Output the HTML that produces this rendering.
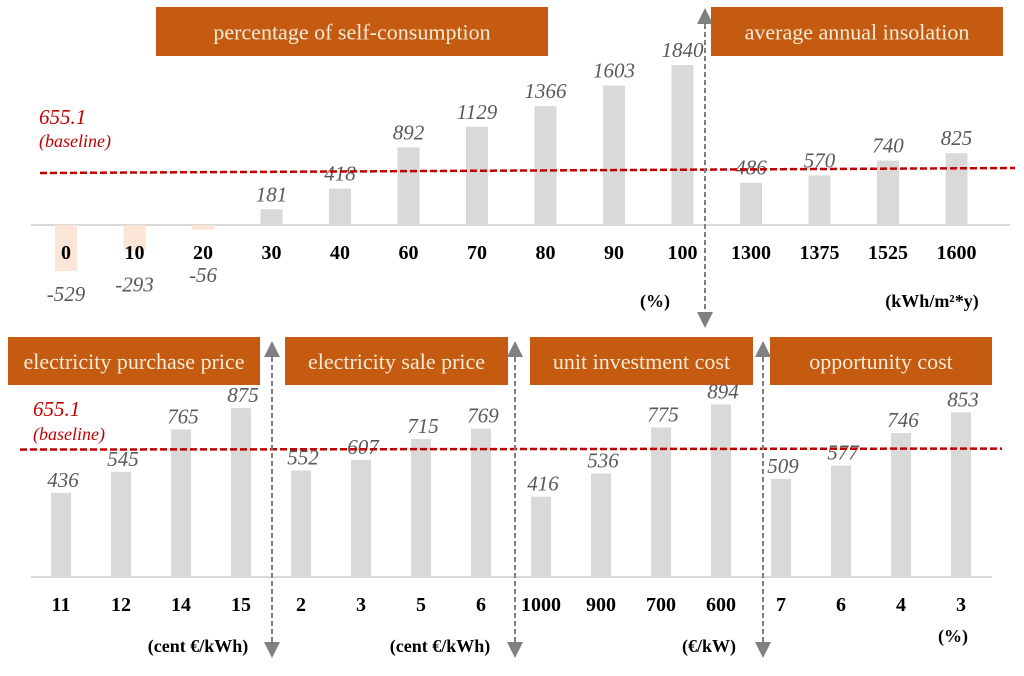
<!DOCTYPE html>
<html><head><meta charset="utf-8"><style>
body{margin:0;background:#fff;width:1024px;height:671px;overflow:hidden}
svg{font-family:"Liberation Serif",serif}
.val{font-style:italic;fill:#595959;font-size:21px;text-anchor:middle}
.cat{font-weight:bold;fill:#000;font-size:20px;text-anchor:middle}
.ttl{fill:#f3ecd8;font-size:22px;text-anchor:middle}
.unit{font-weight:bold;font-size:18px;text-anchor:middle}
</style></head><body>
<svg id="chart" width="1024" height="671" viewBox="0 0 1024 671">
<defs><marker id="ah" markerWidth="8" markerHeight="8" refX="4" refY="4" orient="auto-start-reverse"><path d="M0,0 L8,4 L0,8 z" fill="#808080"/></marker></defs>
</svg>
<script>
const topCats=['0','10','20','30','40','60','70','80','90','100','1300','1375','1525','1600'];
const topVals=[-529,-293,-56,181,418,892,1129,1366,1603,1840,486,570,740,825];
const botCats=['11','12','14','15','2','3','5','6','1000','900','700','600','7','6','4','3'];
const botVals=[436,545,765,875,552,607,715,769,416,536,775,894,509,577,746,853];
const baseline=655.1;
const svg=document.getElementById('chart');
const NS='http://www.w3.org/2000/svg';
function mk(tag,attrs,parent){const e=document.createElementNS(NS,tag);for(const k in attrs)e.setAttribute(k,attrs[k]);(parent||svg).appendChild(e);return e;}
function txt(x,y,s,cls,fill){const t=mk('text',{x:x,y:y,class:cls});if(fill)t.setAttribute('fill',fill);t.textContent=s;return t;}
const topX=i=>66+i*68.5, topY=v=>225-v*0.087;
const botX=i=>61+i*60, botY=v=>577-v*0.193;
const boxes=[[156,7,392,49,'percentage of self-consumption','title-self-consumption'],[711,7,292,49,'average annual insolation','title-insolation'],
[8,337,252,48,'electricity purchase price','title-purchase-price'],[285,337,223,48,'electricity sale price','title-sale-price'],
[530,337,223,48,'unit investment cost','title-investment-cost'],[770,337,222,48,'opportunity cost','title-opportunity-cost']];
boxes.forEach(b=>{const g=mk('g',{});

mk('rect',{x:b[0],y:b[1],width:b[2],height:b[3],fill:'#c55a11'},g);
const t=mk('text',{x:b[0]+b[2]/2,y:b[1]+b[3]/2+8,class:'ttl'},g);t.textContent=b[4];});
const a1=mk('line',{x1:31,y1:225,x2:1010,y2:225,stroke:'#d9d9d9','stroke-width':2});

const a2=mk('line',{x1:31,y1:577,x2:992,y2:577,stroke:'#d9d9d9','stroke-width':2});

topVals.forEach((v,i)=>{const x=topX(i),y0=topY(0),y1=topY(v);
const r=mk('rect',{x:x-11,y:Math.min(y0,y1),width:22,height:Math.abs(y1-y0),fill:v<0?'#fbe5d6':'#d9d9d9'});

const t=txt(x,v<0?280-v*0.04:y1-8,String(v),'val');

const c=txt(x,259,topCats[i],'cat');
});
botVals.forEach((v,i)=>{const x=botX(i),y1=botY(v);
const r=mk('rect',{x:x-10,y:y1,width:20,height:botY(0)-y1,fill:'#d9d9d9'});

const t=txt(x+2,y1-6,String(v),'val');

const c=txt(x,611,botCats[i],'cat');
});
const b1=mk('line',{x1:40,y1:topY(baseline)+5,x2:1015,y2:topY(baseline),stroke:'#c00000','stroke-width':2.5,'stroke-dasharray':'7,3'});

const b2=mk('line',{x1:20,y1:botY(baseline)-1,x2:1002,y2:botY(baseline)-2,stroke:'#c00000','stroke-width':2.5,'stroke-dasharray':'7,3'});

[[39,124,147],[33,416,440]].forEach((p,k)=>{
const t1=txt(p[0],p[1],'655.1','');t1.setAttribute('fill','#c00000');t1.setAttribute('font-style','italic');t1.setAttribute('font-size','21');

const t2=txt(p[0],p[2],'(baseline)','');t2.setAttribute('fill','#c00000');t2.setAttribute('font-style','italic');t2.setAttribute('font-size','18');
});
[[705,10,326],[272,343,656],[515,343,656],[763,343,656]].forEach(a=>{
const l=mk('line',{x1:a[0],y1:a[1]+6,x2:a[0],y2:a[2]-6,stroke:'#808080','stroke-width':2,'stroke-dasharray':'5,3','marker-start':'url(#ah)','marker-end':'url(#ah)'});
});
[[655,307,'(%)'],[932,307,'(kWh/m²*y)'],[198,652,'(cent €/kWh)'],[440,652,'(cent €/kWh)'],[709,652,'(€/kW)'],[953,642,'(%)']].forEach(u=>{
const t=txt(u[0],u[1],u[2],'unit');});
</script>
</body></html>
